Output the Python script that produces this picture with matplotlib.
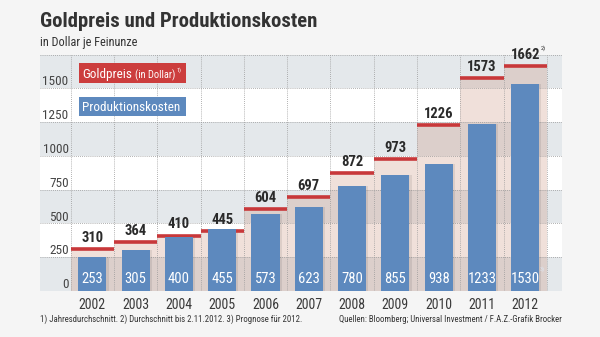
import matplotlib
matplotlib.use("Agg")
import matplotlib.pyplot as plt
from matplotlib.patches import Rectangle
from matplotlib import font_manager

# pick a narrow face if there is one, otherwise Liberation Sans
names = {f.name for f in font_manager.fontManager.ttflist}
family = "Liberation Sans"
for cand in ["Liberation Sans Narrow", "Roboto Condensed", "Open Sans Condensed", "Noto Sans Condensed"]:
    if cand in names:
        family = cand
        break
plt.rcParams['font.family'] = [family, 'DejaVu Sans']

years = ["2002", "2003", "2004", "2005", "2006", "2007", "2008", "2009", "2010", "2011", "2012"]
goldpreis = [310, 364, 410, 445, 604, 697, 872, 973, 1226, 1573, 1662]
kosten = [253, 305, 400, 455, 573, 623, 780, 855, 938, 1233, 1530]
yticks = [0, 250, 500, 750, 1000, 1250, 1500]

W, H = 600, 337
fig = plt.figure(figsize=(6, 3.37), dpi=100, facecolor="#f5f5f5")
renderer = fig.canvas.get_renderer()


def fx(x):
    return x / W


def fy(y):
    return 1 - y / H


def fit(t, width_px):
    w = t.get_window_extent(renderer).width
    t.set_fontsize(t.get_fontsize() * width_px / w)
    return t


ytop = 1745
ax = fig.add_axes([fx(40), fy(291), fx(562) - fx(40), fy(55) - fy(291)])
ax.set_xlim(-1.21, 10.85)
ax.set_ylim(0, ytop)
ax.axis("off")

# bands
for i, lo in enumerate(yticks):
    hi = yticks[i + 1] if i + 1 < len(yticks) else ytop
    ax.axhspan(lo, hi, color="#e4e8eb" if i % 2 == 0 else "#ffffff", zorder=0, lw=0)

n = len(years)
# beige area + red lines
for i in range(n):
    ax.add_patch(Rectangle((i - 0.5, 0), 1, goldpreis[i], facecolor="#c98e78",
                           alpha=0.27, lw=0, zorder=1))
    ax.plot([i - 0.5, i + 0.5], [goldpreis[i], goldpreis[i]], color="#c8383a",
            lw=2.6, solid_capstyle="butt", zorder=4)
    ax.text(i, goldpreis[i] + 30, str(goldpreis[i]), ha="center", va="bottom",
            fontsize=10.5, fontweight="bold", color="#2a2a2a", zorder=6)

# grid
for y in yticks + [ytop]:
    ax.plot([-1.21, 10.85], [y, y], color="#999999", lw=0.6, ls=(0, (1, 1.5)), zorder=2)
for i in range(n + 1):
    ax.plot([i - 0.5, i - 0.5], [0, ytop], color="#999999", lw=0.6, ls=(0, (1, 1.5)), zorder=2)

# blue bars
ax.bar(range(n), kosten, width=0.65, color="#5d89be", zorder=5, lw=0)
for i in range(n):
    ax.bar(i + 0.05, kosten[i], width=0.65, color="#000000", alpha=0.08, zorder=3, lw=0)
    ax.text(i, 62, str(kosten[i]), ha="center", va="baseline", fontsize=10.5,
            color="white", zorder=6)
    ax.text(i, -55, years[i], ha="center", va="top", fontsize=10, color="#3a3a3a")

ax.text(10.34, 150, "3)", fontsize=4.5, color="#dde6f2", zorder=6)
ax.text(10.36, goldpreis[-1] + 125, "2)", fontsize=4.5, color="#2a2a2a", zorder=6)

for y in yticks:
    ax.text(-0.55, y + 20, str(y), ha="right", va="baseline", fontsize=9.5, color="#444444")

# legend boxes
fig.patches.append(Rectangle((fx(79), fy(83)), fx(186) - fx(79), fy(63) - fy(83),
                             transform=fig.transFigure, facecolor="#cc3d3d", lw=0))
fig.patches.append(Rectangle((fx(79), fy(116)), fx(186) - fx(79), fy(97) - fy(116),
                             transform=fig.transFigure, facecolor="#5d89be", lw=0))
fit(fig.text(fx(82), fy(78), "Goldpreis", fontsize=10, color="white", va="baseline"), 50)
fit(fig.text(fx(135), fy(78), "(in Dollar)", fontsize=7, color="white", va="baseline"), 41)
fig.text(fx(177), fy(72), "1)", fontsize=4.5, color="white", va="baseline")
fit(fig.text(fx(82), fy(111), "Produktionskosten", fontsize=10, color="white", va="baseline"), 98)

# titles and notes
fit(fig.text(fx(40), fy(27), "Goldpreis und Produktionskosten", fontsize=14,
             fontweight="bold", color="#333333", va="baseline"), 279)
fit(fig.text(fx(40), fy(46), "in Dollar je Feinunze", fontsize=8, color="#333333",
             va="baseline"), 97)
fit(fig.text(fx(40), fy(322), "1) Jahresdurchschnitt. 2) Durchschnitt bis 2.11.2012. 3) Prognose für 2012.",
             fontsize=6, color="#333333", va="baseline"), 262)
fit(fig.text(fx(562), fy(322), "Quellen: Bloomberg; Universal Investment / F.A.Z.-Grafik Brocker",
             fontsize=6, color="#333333", va="baseline", ha="right"), 225)

fig.savefig("out.png", dpi=100, facecolor=fig.get_facecolor())
